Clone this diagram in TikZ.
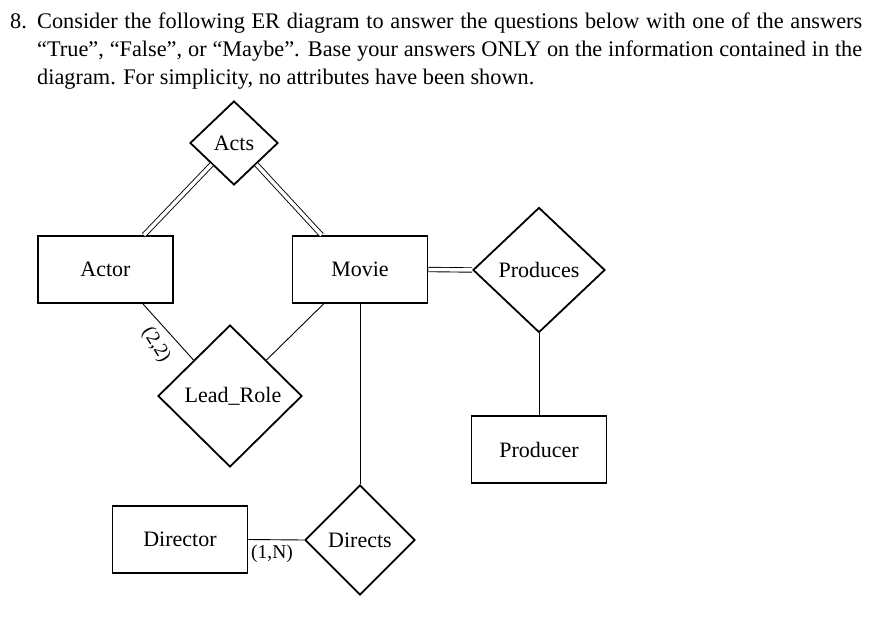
\documentclass[tikz,border=0pt]{standalone}
\usepackage{fontspec}
\setmainfont{Liberation Serif}
\usetikzlibrary{shapes.geometric,calc}
\tikzset{
  entity/.style={draw, line width=1.8pt, minimum width=135pt, minimum height=67pt, inner sep=0pt, font=\fontsize{22}{25}\selectfont},
  rel/.style={draw, diamond, line width=1.8pt, inner sep=0pt, font=\fontsize{22}{25}\selectfont},
  conn/.style={line width=0.9pt},
  dconn/.style={double, double distance=3.5pt, line width=0.9pt},
  card/.style={font=\fontsize{19.5}{22}\selectfont, inner sep=0pt},
  qtext/.style={inner sep=0pt, font=\fontsize{22.3}{28}\selectfont}
}
\begin{document}
\begin{tikzpicture}[x=1pt,y=-1pt]
\useasboundingbox (0,0) rectangle (875,642);
\node[qtext, anchor=base west] (num) at (10,29) {8.};
\node[qtext, anchor=north west] (q) at (37,13) {\parbox[t]{825pt}{\fontsize{22.3}{28}\selectfont Consider the following ER diagram to answer the questions below with one of the answers \linebreak “True”, “False”, or “Maybe”. Base your answers ONLY on the information contained in the \linebreak diagram. For simplicity, no attributes have been shown.}};

\node[rel, minimum width=88pt, minimum height=84pt] (acts) at (234,143) {Acts};
\node[entity] (actor) at (105.5,269.5) {Actor};
\node[entity] (movie) at (360,269.5) {Movie};
\node[rel, minimum width=132pt, minimum height=125pt] (produces) at (539,270) {Produces};
\node[entity] (producer) at (539,449.5) {Producer};
\node[rel, minimum width=144pt, minimum height=142pt] (lead) at (230,396) {\hspace*{6pt}Lead\_Role};
\node[entity] (director) at (180,539.5) {Director};
\node[rel, minimum width=110pt, minimum height=110pt] (directs) at (360,540) {Directs};

\draw[dconn] (acts.south west) -- ($(actor.north east)+(-30,0)$);
\draw[dconn] (acts.south east) -- ($(movie.north west)+(30,0)$);
\draw[dconn] (movie.east) -- (produces.west);
\draw[conn] ($(actor.south east)+(-31,0)$) -- (lead.north west);
\draw[conn] ($(movie.south west)+(32,0)$) -- (lead.north east);
\draw[conn] (movie.south) -- (directs.north);
\draw[conn] (director.east) -- (directs.west);
\draw[conn] (produces.south) -- (producer.north);

\node[card, rotate=-58] (c22) at (156,345) {(2,2)};
\node[card, anchor=west] (c1n) at (251,554) {(1,N)};
\end{tikzpicture}
\end{document}
